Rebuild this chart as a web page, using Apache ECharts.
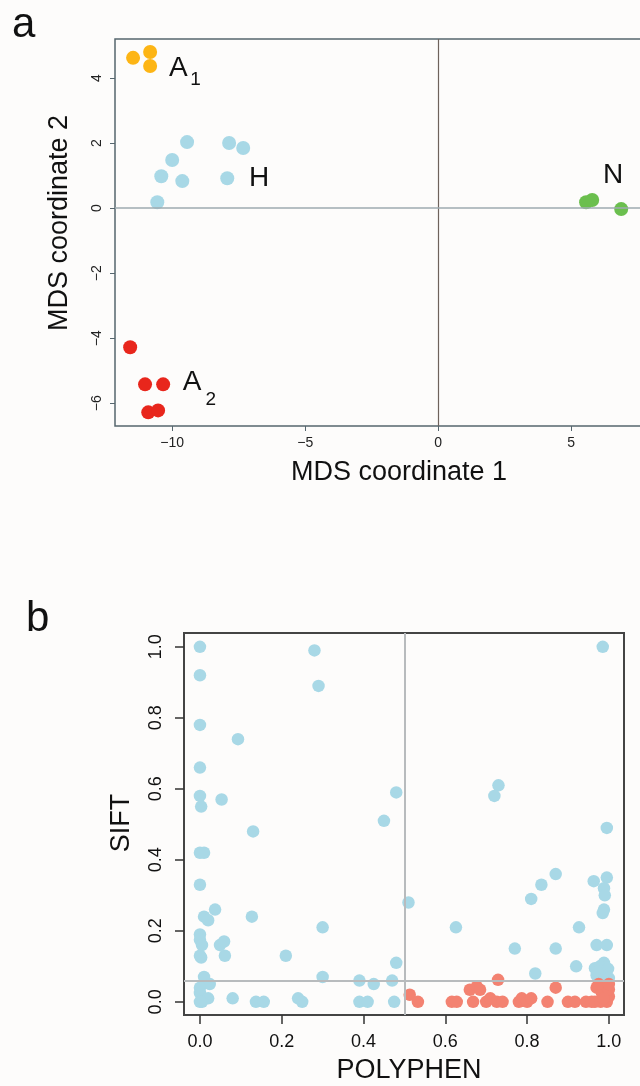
<!DOCTYPE html>
<html>
<head>
<meta charset="utf-8">
<script src="https://cdn.jsdelivr.net/npm/echarts@6/dist/echarts.min.js"></script>
<style>
html, body { margin: 0; padding: 0; background: #fdfcfb; }
#main { width: 640px; height: 1086px; }
</style>
</head>
<body>
<div id="main"></div>
<script>
// panel a: MDS coordinates per group
var groupA1 = [[-11.47, 4.62], [-10.83, 4.80], [-10.83, 4.37]];
var groupH = [[-10.56, 0.18], [-10.41, 0.98], [-10.0, 1.48], [-9.62, 0.83], [-9.44, 2.03], [-7.93, 0.92], [-7.86, 2.0], [-7.33, 1.85]];
var groupA2 = [[-11.58, -4.28], [-11.02, -5.42], [-10.34, -5.42], [-10.9, -6.28], [-10.53, -6.22]];
var groupN = [[5.56, 0.18], [5.79, 0.25], [6.88, -0.03]];
var mdsXTicks = [-10, -5, 0, 5];
var mdsYTicks = [-6, -4, -2, 0, 2, 4];

// panel b: POLYPHEN vs SIFT
var tolerated = [
    [0, 1.0], [0, 0.92], [0, 0.78], [0.093, 0.74], [0, 0.66], [0, 0.58], [0.003, 0.55], [0.053, 0.57], [0.13, 0.48],
    [0.28, 0.99], [0.29, 0.89], [0, 0.42], [0.01, 0.42], [0, 0.33], [0.037, 0.26], [0.01, 0.24], [0.02, 0.23],
    [0.127, 0.24], [0.30, 0.21], [0, 0.19], [0, 0.175], [0.005, 0.16], [0.049, 0.16], [0.059, 0.17], [0.003, 0.125],
    [0, 0.13], [0.061, 0.13], [0.21, 0.13], [0.30, 0.07], [0.01, 0.07], [0.024, 0.05], [0, 0.04], [0, 0.025],
    [0.02, 0.01], [0.005, 0], [0, 0], [0.08, 0.01], [0.137, 0], [0.156, 0], [0.24, 0.01], [0.25, 0],
    [0.48, 0.59], [0.45, 0.51], [0.73, 0.61], [0.72, 0.58], [0.985, 1.0], [0.995, 0.49],
    [0.48, 0.11], [0.39, 0.06], [0.425, 0.05], [0.47, 0.06], [0.39, 0], [0.41, 0], [0.475, 0],
    [0.51, 0.28], [0.626, 0.21], [0.87, 0.36], [0.835, 0.33], [0.81, 0.29], [0.963, 0.34], [0.995, 0.35],
    [0.988, 0.32], [0.99, 0.30], [0.988, 0.26], [0.985, 0.25], [0.927, 0.21], [0.77, 0.15], [0.87, 0.15],
    [0.97, 0.16], [0.995, 0.16], [0.92, 0.10], [0.82, 0.08], [0.988, 0.11], [0.966, 0.095], [0.978, 0.10],
    [0.998, 0.093], [0.97, 0.075], [0.985, 0.075], [1.0, 0.067], [0.973, 0.085]
];
var damaging = [
    [0.513, 0.02], [0.533, 0], [0.616, 0], [0.628, 0], [0.66, 0.034], [0.677, 0.043], [0.685, 0.034], [0.668, 0],
    [0.70, 0], [0.71, 0.01], [0.726, 0], [0.729, 0.062], [0.74, 0], [0.78, 0], [0.787, 0.01], [0.80, 0], [0.81, 0.01],
    [0.85, 0], [0.87, 0.04], [0.90, 0], [0.917, 0], [0.944, 0], [0.958, 0], [0.966, 0], [0.97, 0.04], [0.995, 0.04],
    [0.983, 0.025], [0.995, 0.025], [0.995, 0], [0.98, 0], [1.0, 0.015], [1.0, 0.035], [0.987, 0.01], [0.975, 0.05],
    [1.0, 0.05]
];
var ppTicks = [0, 0.2, 0.4, 0.6, 0.8, 1.0];
var siftTicks = [0, 0.2, 0.4, 0.6, 0.8, 1.0];
var polyphenCut = 0.5, siftCut = 0.056;

var FONT = "'Liberation Sans', Arial, Helvetica, sans-serif";

function minus(v) {
    return String(v).replace('-', '\u2212');
}

var chart = echarts.init(document.getElementById('main'));
var option = {
    backgroundColor: '#fdfcfb',
    animation: false,
    textStyle: { fontFamily: FONT },
    grid: [
        { left: 115, top: 39, width: 536, height: 387, outerBoundsMode: 'none', containLabel: false, show: true, borderColor: '#56666e', borderWidth: 1.5, backgroundColor: 'transparent' },
        { left: 184, top: 633, width: 440, height: 382, outerBoundsMode: 'none', containLabel: false, show: true, borderColor: '#444444', borderWidth: 2, backgroundColor: 'transparent' }
    ],
    xAxis: [
        {
            gridIndex: 0, type: 'value', min: -12.15, max: 8.0, splitLine: { show: false },
            axisLine: { show: false, onZero: false },
            axisTick: { show: true, inside: false, length: 5, customValues: mdsXTicks, lineStyle: { color: '#56666e' } },
            axisLabel: { customValues: mdsXTicks, formatter: minus, color: '#222', fontSize: 14, margin: 10 }
        },
        {
            gridIndex: 1, type: 'value', min: -0.039, max: 1.037, splitLine: { show: false },
            axisLine: { show: false, onZero: false },
            axisTick: { show: true, inside: false, length: 9, customValues: ppTicks, lineStyle: { color: '#333', width: 1.5 } },
            axisLabel: { customValues: ppTicks, formatter: function (v) { return v.toFixed(1); }, color: '#111', fontSize: 18, margin: 18 }
        }
    ],
    yAxis: [
        {
            gridIndex: 0, type: 'value', min: -6.7, max: 5.2, splitLine: { show: false },
            axisLine: { show: false, onZero: false },
            axisTick: { show: true, inside: false, length: 5, customValues: mdsYTicks, lineStyle: { color: '#56666e' } },
            axisLabel: { customValues: mdsYTicks, formatter: minus, rotate: 90, color: '#222', fontSize: 14, margin: 11 }
        },
        {
            gridIndex: 1, type: 'value', min: -0.037, max: 1.039, splitLine: { show: false },
            axisLine: { show: false, onZero: false },
            axisTick: { show: true, inside: false, length: 9, customValues: siftTicks, lineStyle: { color: '#333', width: 1.5 } },
            axisLabel: { customValues: siftTicks, formatter: function (v) { return v.toFixed(1); }, rotate: 90, color: '#111', fontSize: 18, margin: 19 }
        }
    ],
    series: [
        { type: 'scatter', xAxisIndex: 0, yAxisIndex: 0, data: groupA1, symbolSize: 14, itemStyle: { color: '#fdb515', opacity: 1 } },
        { type: 'scatter', xAxisIndex: 0, yAxisIndex: 0, data: groupH, symbolSize: 14, itemStyle: { color: '#a8d8e6', opacity: 1 } },
        { type: 'scatter', xAxisIndex: 0, yAxisIndex: 0, data: groupA2, symbolSize: 14, itemStyle: { color: '#e8261c', opacity: 1 } },
        { type: 'scatter', xAxisIndex: 0, yAxisIndex: 0, data: groupN, symbolSize: 14, itemStyle: { color: '#6bbf4e', opacity: 1 } },
        {
            // reference lines and group labels on top of the points
            type: 'scatter', xAxisIndex: 0, yAxisIndex: 0, data: [], z: 5,
            markLine: {
                silent: true, symbol: 'none', label: { show: false },
                data: [
                    { xAxis: 0, lineStyle: { color: '#6e625c', width: 1.2, type: 'solid' } },
                    { yAxis: 0, lineStyle: { color: '#9eabb1', width: 1.5, type: 'solid' } }
                ]
            },
            markPoint: {
                symbol: 'circle', symbolSize: 0, silent: true,
                label: { show: true, color: '#111', fontFamily: FONT },
                data: [
                    { coord: [-9.77, 4.31], label: { formatter: 'A', fontSize: 28 } },
                    { coord: [-9.12, 3.95], label: { formatter: '1', fontSize: 19 } },
                    { coord: [-6.73, 0.92], label: { formatter: 'H', fontSize: 28 } },
                    { coord: [6.58, 1.02], label: { formatter: 'N', fontSize: 28 } },
                    { coord: [-9.25, -5.35], label: { formatter: 'A', fontSize: 28 } },
                    { coord: [-8.55, -5.88], label: { formatter: '2', fontSize: 19 } }
                ]
            }
        },
        { type: 'scatter', xAxisIndex: 1, yAxisIndex: 1, data: tolerated, symbolSize: 12.5, itemStyle: { color: '#a8d8e6', opacity: 1 } },
        { type: 'scatter', xAxisIndex: 1, yAxisIndex: 1, data: damaging, symbolSize: 12.5, itemStyle: { color: '#f38271', opacity: 1 } },
        {
            type: 'scatter', xAxisIndex: 1, yAxisIndex: 1, data: [], z: 5,
            markLine: {
                silent: true, symbol: 'none', label: { show: false },
                lineStyle: { color: '#b8bbbd', width: 2, type: 'solid' },
                data: [{ xAxis: polyphenCut }, { yAxis: siftCut }]
            }
        }
    ],
    graphic: [
        { type: 'text', left: 12, top: 4, style: { text: 'a', fontSize: 42, fontFamily: FONT, fill: '#111' } },
        { type: 'text', left: 26, top: 598, style: { text: 'b', fontSize: 42, fontFamily: FONT, fill: '#111' } },
        { type: 'text', x: 399, y: 473, style: { text: 'MDS coordinate 1', fontSize: 27, fontFamily: FONT, fill: '#111', align: 'center', verticalAlign: 'middle' } },
        { type: 'text', x: 60, y: 223, rotation: Math.PI / 2, style: { text: 'MDS coordinate 2', fontSize: 27, fontFamily: FONT, fill: '#111', align: 'center', verticalAlign: 'middle' } },
        { type: 'text', x: 409, y: 1071, style: { text: 'POLYPHEN', fontSize: 27, fontFamily: FONT, fill: '#111', align: 'center', verticalAlign: 'middle' } },
        { type: 'text', x: 122, y: 823, rotation: Math.PI / 2, style: { text: 'SIFT', fontSize: 27, fontFamily: FONT, fill: '#111', align: 'center', verticalAlign: 'middle' } }
    ]
};
chart.setOption(option);
</script>
</body>
</html>
